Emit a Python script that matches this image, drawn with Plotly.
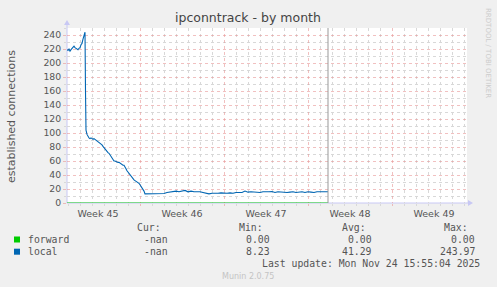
import plotly.graph_objects as go
from datetime import datetime, timedelta

# ---------------- data ----------------
title_text = "ipconntrack - by month"
y_label = "established connections"

graph_start = datetime(2025, 11, 3, 22, 0)
graph_end = datetime(2025, 12, 7, 6, 0)

# hours after graph_start (2-hour samples)
local_hours = [0, 2, 4, 6, 8, 10, 12, 14, 16, 18, 20, 22, 24, 26, 28, 30, 32, 34, 36, 37, 38,
               40, 42, 44, 46, 48, 50, 52, 54, 56, 58, 60, 62, 64, 66, 68, 70, 72, 74, 76, 78,
               80, 82, 84, 86, 88, 90, 92, 94, 96, 98, 100, 102, 104, 106, 108, 110, 112, 114,
               116, 118, 120, 122, 124, 126, 128, 130, 132, 134, 136, 138, 140, 142, 144, 146,
               148, 150, 152, 154, 156,
               158, 164, 170, 176, 182, 188, 194,
               200, 206, 212, 218, 224, 230, 236, 242, 248, 254, 260, 266,
               272, 278, 284, 290, 296, 302, 308, 314, 320, 326, 332, 338, 344,
               350, 356, 362, 368, 374, 380, 386, 392, 398, 404, 410, 416, 422, 428, 434, 440,
               446, 452, 458, 464, 470, 476, 482, 488, 494, 500, 506, 512, 518, 522]
local_values = [219, 218, 220, 217, 219, 221, 222, 224, 222, 221, 220, 219, 221, 222, 226, 228, 234, 238, 244, 160, 104,
                98, 95, 93, 92, 93, 92, 91, 92, 91, 90, 88, 87, 86, 86, 85, 83, 81, 79, 78, 76,
                74, 72, 71, 69, 67, 65, 62, 60, 60, 59, 59, 58, 58, 57, 55, 54, 54, 54,
                52, 49, 46, 44, 42, 40, 38, 36, 35, 33, 32, 31, 31, 30, 28, 26,
                24, 22, 20, 17, 13,
                13, 13, 13.5, 14, 13, 14, 13.5,
                15, 16, 16, 17, 16, 16.5, 18, 16, 17, 16, 16.5, 16,
                15, 14, 13, 14, 13.5, 14, 14.5, 14, 14, 14.5, 14, 15, 14.5,
                15, 17, 15.5, 16, 15.5, 16, 15, 16, 15.5, 16, 16.5, 15, 16, 15.5, 16, 15,
                15.5, 16, 15, 15.5, 16, 15, 16, 15.5, 15, 16, 16, 15.5, 16.5, 16]

forward_hours = [0, 522]
forward_values = [0, 0]

series_names = ["forward", "local"]
series_colors = ["#00CC00", "#0066B3"]
stat_headers = ["Cur:", "Min:", "Avg:", "Max:"]
forward_stats = ["-nan", "0.00", "0.00", "0.00"]
local_stats = ["-nan", "8.23", "41.29", "243.97"]
last_update = "Last update: Mon Nov 24 15:55:04 2025"
footer = "Munin 2.0.75"
side_text = "RRDTOOL / TOBI OETIKER"

y_max = 250

# ---------------- layout geometry ----------------
W, H = 497, 287
L, R, T, B = 67, 30, 28, 84
PW, PH = W - L - R, H - T - B


def fx(px):
    return (px - L) / PW


def fy(py):
    return (H - B - py) / PH


local_t = [graph_start + timedelta(hours=h) for h in local_hours]
forward_t = [graph_start + timedelta(hours=h) for h in forward_hours]

SANS = "DejaVu Sans"
MONO = "DejaVu Sans Mono"
MAJ = "rgba(232,150,150,0.6)"
MIN = "#d8d8d8"
AXC = "#c8c8f4"

fig = go.Figure()
fig.add_trace(go.Scatter(x=forward_t, y=forward_values, mode="lines",
                         line=dict(color=series_colors[0], width=1.4), name="forward",
                         cliponaxis=False, showlegend=False, opacity=0.6))
fig.add_trace(go.Scatter(x=local_t, y=local_values, mode="lines",
                         line=dict(color=series_colors[1], width=1.1), name="local",
                         showlegend=False))

ann = []


def text(x, y, s, size, color, anchor="left", family=SANS, angle=0):
    ann.append(dict(x=fx(x), y=fy(y), xref="paper", yref="paper", text=s, showarrow=False,
                    xanchor=anchor, yanchor="middle", textangle=angle,
                    font=dict(family=family, size=size, color=color)))


text(248, 18, title_text, 12.5, "#444444", "center")
text(11, 116, y_label, 11, "#555555", "center", angle=-90)
text(488, 53, side_text, 7, "#cccccc", "center", angle=90)

hdr_right = [163, 265, 368, 470]
val_right = [170, 272, 374, 477]
for h, xr in zip(stat_headers, hdr_right):
    text(xr, 227, h, 9.8, "#555555", "right", MONO)
rows_y = [239.5, 251.7]
for name, col, stats, yy in zip(series_names, series_colors, [forward_stats, local_stats], rows_y):
    text(26, yy, name, 9.8, "#555555", "left", MONO)
    for v, xr in zip(stats, val_right):
        text(xr, yy, v, 9.8, "#555555", "right", MONO)
text(482, 263.5, last_update, 9.8, "#555555", "right", MONO)
text(248, 276, footer, 8, "#c4c4c4", "center")

shapes = []
# legend squares
for col, yy in zip(series_colors, rows_y):
    shapes.append(dict(type="rect", xref="paper", yref="paper", x0=fx(14), x1=fx(20),
                       y0=fy(yy - 3), y1=fy(yy + 3), fillcolor=col, line=dict(width=0)))
# axis lines and arrows
shapes.append(dict(type="line", xref="paper", yref="paper", x0=0, x1=0, y0=0, y1=fy(23),
                   line=dict(color=AXC, width=1), layer="between"))
shapes.append(dict(type="line", xref="paper", yref="paper", x0=0, x1=fx(470), y0=0, y1=0,
                   line=dict(color=AXC, width=1), layer="between"))
shapes.append(dict(type="path", xref="paper", yref="paper",
                   path=f"M {fx(64)} {fy(25)} L {fx(70)} {fy(25)} L {fx(67)} {fy(20)} Z",
                   fillcolor=AXC, line=dict(width=0)))
shapes.append(dict(type="path", xref="paper", yref="paper",
                   path=f"M {fx(468)} {fy(200)} L {fx(468)} {fy(206)} L {fx(473)} {fy(203)} Z",
                   fillcolor=AXC, line=dict(width=0)))
# vertical marker at end of data
shapes.append(dict(type="line", xref="x", yref="paper", x0=local_t[-1], x1=local_t[-1],
                   y0=0, y1=1, line=dict(color="#999999", width=1)))

fig.update_layout(
    width=W, height=H, margin=dict(l=L, r=R, t=T, b=B, pad=0),
    paper_bgcolor="#F0F0F0", plot_bgcolor="#FFFFFF",
    annotations=ann, shapes=shapes, showlegend=False,
    xaxis=dict(type="date", range=[graph_start, graph_end],
               tick0="2025-11-03", dtick=7 * 86400000, ticklabelmode="period",
               tickformat="Week %V", showgrid=True, gridcolor=MAJ, griddash="dot",
               gridwidth=1, zeroline=False, showline=False,
               ticks="outside", ticklen=2, tickcolor=MAJ,
               tickfont=dict(family=SANS, size=9.5, color="#555555"),
               minor=dict(dtick=86400000, tick0="2025-11-03", showgrid=True,
                          gridcolor=MIN, griddash="dot", gridwidth=1,
                          ticks="outside", ticklen=2, tickcolor=MIN)),
    yaxis=dict(range=[0, y_max], tick0=0, dtick=20, showgrid=True, gridcolor=MAJ,
               griddash="dot", gridwidth=1, zeroline=False, showline=False,
               ticks="outside", ticklen=3, tickcolor=MAJ,
               tickfont=dict(family=SANS, size=9.3, color="#555555"),
               minor=dict(dtick=10, showgrid=True, gridcolor=MIN, griddash="dot",
                          gridwidth=1, ticks="outside", ticklen=2, tickcolor=MIN)),
)

fig.write_html("out.html")
